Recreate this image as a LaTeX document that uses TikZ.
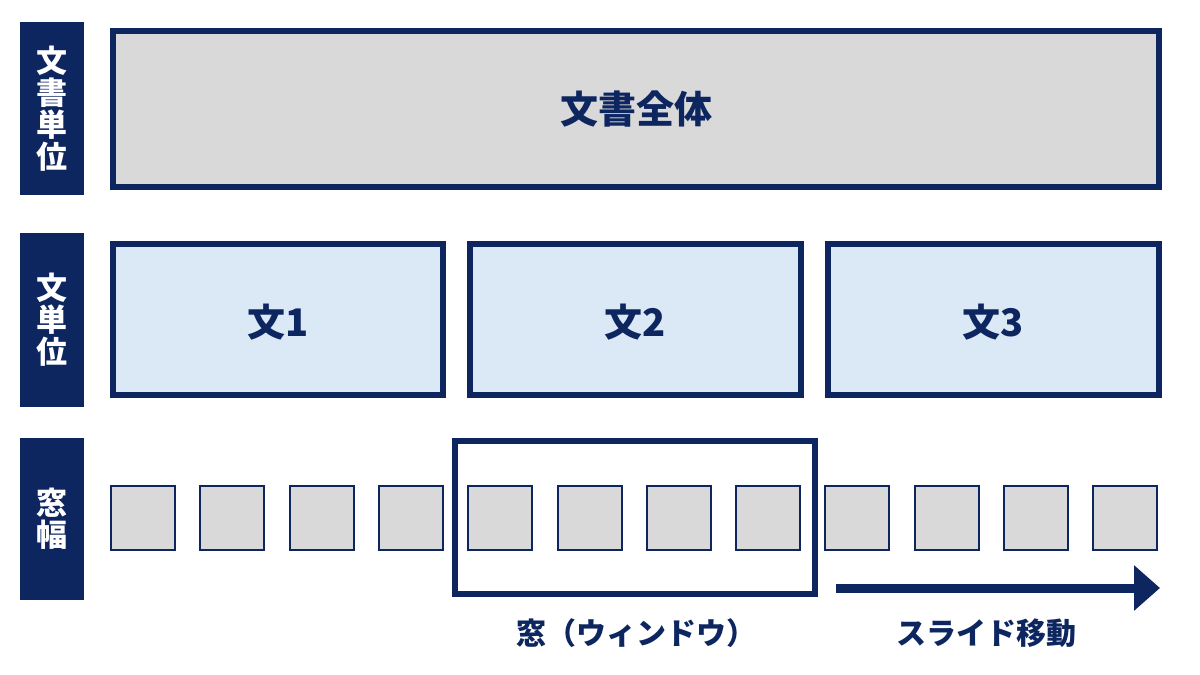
\documentclass[tikz,border=0pt]{standalone}
\usepackage{fontspec}
\setmainfont{Noto Sans CJK JP}
\usetikzlibrary{arrows.meta}
\definecolor{navy}{HTML}{0D2660}
\definecolor{boxgray}{HTML}{D9D9D9}
\definecolor{lightblue}{HTML}{DBE8F5}
\begin{document}
\begin{tikzpicture}[x=1pt,y=-1pt,
    sidebar/.style={fill=navy,text=white,font=\fontsize{31}{36}\selectfont\bfseries,align=center},
    bigbox/.style={draw=navy,line width=6pt,text=navy},
    cell/.style={draw=navy,line width=2pt,fill=boxgray,minimum size=64pt,inner sep=0pt}]

    %--- 背景 ---
    \useasboundingbox (0,0) rectangle (1200,675);

    %--- 左の見出し ---
    \fill[navy] (20,22) rectangle (84,195);
    \node[sidebar] (lbdoc) at (52,108.5) {文\\[-4pt]書\\[-4pt]単\\[-4pt]位};
    \fill[navy] (20,233) rectangle (84,407);
    \node[sidebar] (lbsent) at (52,320) {文\\[-4pt]単\\[-4pt]位};
    \fill[navy] (20,438) rectangle (84,600);
    \node[sidebar] (lbwin) at (52,519) {窓\\[-4pt]幅};

    %--- 文書全体 ---
    \draw[bigbox,fill=boxgray] (113,31) rectangle (1159,187);
    \node[text=navy,font=\fontsize{38}{42}\selectfont\bfseries] (doc) at (636,109) {文書全体};

    %--- 文 ---
    \foreach \i/\xa/\xb in {1/113/443, 2/470/801, 3/828/1159} {
        \draw[bigbox,fill=lightblue] (\xa,244) rectangle (\xb,395);
        \node[text=navy,font=\fontsize{38}{42}\selectfont\bfseries] (s\i) at ({(\xa+\xb)/2},322) {文\i};
    }

    %--- 単語 ---
    \foreach \k in {0,...,11} {
        \node[cell] (w\k) at ({143+89.3*\k},518) {};
    }

    %--- 窓 ---
    \draw[navy,line width=6pt] (455,441) rectangle (815,594);

    %--- 矢印 ---
    \coordinate (arrS) at (836,588);
    \coordinate (arrE) at (1160,588);
    \draw[navy,line width=9pt,-{Triangle[length=26pt,width=44pt]}] (arrS) -- (arrE);

    %--- ラベル ---
    \node[text=navy,font=\fontsize{30}{34}\selectfont\bfseries] (winlab) at (636,633) {窓（ウィンドウ）};
    \node[text=navy,font=\fontsize{30}{34}\selectfont\bfseries] (slide) at (986,633) {スライド移動};

\end{tikzpicture}
\end{document}
